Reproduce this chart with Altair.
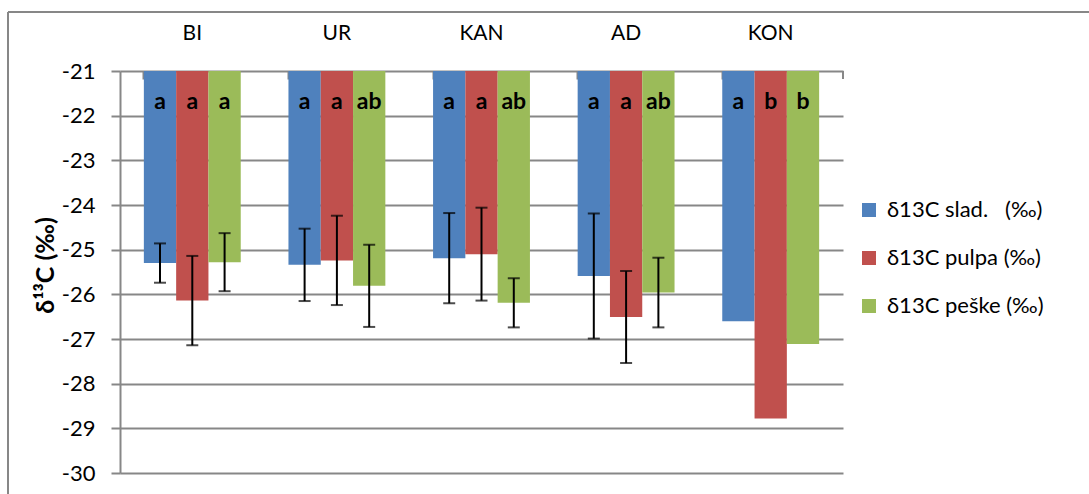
import altair as alt
import pandas as pd

# Sites (categories on the top axis)
groups = ["BI", "UR", "KAN", "AD", "KON"]

# Series names (legend order)
series = ["δ13C slad.\u00a0\u00a0\u00a0(‰)", "δ13C pulpa (‰)", "δ13C peške (‰)"]
colors = ["#4F81BD", "#C0504D", "#9BBB59"]

# Mean δ13C values (‰) per site
slad = [-25.30, -25.34, -25.19, -25.59, -26.60]
pulpa = [-26.14, -25.24, -25.10, -26.51, -28.78]
peske = [-25.28, -25.81, -26.19, -25.96, -27.11]

# Standard deviations (no error bar for KON)
sd_slad = [0.44, 0.81, 1.01, 1.40, None]
sd_pulpa = [1.00, 1.00, 1.04, 1.03, None]
sd_peske = [0.65, 0.92, 0.55, 0.78, None]

# Significance letters
let_slad = ["a", "a", "a", "a", "a"]
let_pulpa = ["a", "a", "a", "a", "b"]
let_peske = ["a", "ab", "ab", "ab", "b"]

rows = []
for name, vals, sds, lets in zip(series, [slad, pulpa, peske],
                                 [sd_slad, sd_pulpa, sd_peske],
                                 [let_slad, let_pulpa, let_peske]):
    for g, v, s, l in zip(groups, vals, sds, lets):
        rows.append({
            "group": g, "series": name, "value": v, "base": -21.0,
            "lo": v - s if s is not None else None,
            "hi": v + s if s is not None else None,
            "letter": l, "label_y": -21.7,
        })
df = pd.DataFrame(rows)

FONT = "Lato"
GRID = "#878787"

x_enc = alt.X(
    "group:N", sort=groups, title=None,
    scale=alt.Scale(paddingInner=0.33, paddingOuter=0.165),
    axis=alt.Axis(orient="top", labelAngle=0, labelFont=FONT, labelFontSize=21,
                  labelColor="#000000", labelPadding=28, domain=False,
                  ticks=True, tickSize=8, tickColor=GRID, tickWidth=2,
                  bandPosition=0, offset=-8, grid=False),
)
xoff = alt.XOffset("series:N", sort=series, scale=alt.Scale(paddingInner=0, paddingOuter=0))

y_scale = alt.Scale(domain=[-30, -21], nice=False, zero=False)

bars = alt.Chart(df).mark_bar().encode(
    x=x_enc,
    xOffset=xoff,
    y=alt.Y("value:Q", scale=y_scale,
            axis=alt.Axis(values=list(range(-30, -20)), format="d",
                          labelExpr="replace(datum.label, '\u2212', '-')",
                          title="δ¹³C (‰)", titleFont=FONT, titleFontSize=25,
                          titleFontWeight="bold", titleColor="#000000",
                          titleAngle=-90, titleX=-75, titleY=194,
                          titleAlign="center", titleBaseline="middle",
                          labelFont=FONT, labelFontSize=22, labelColor="#000000",
                          labelPadding=16, tickSize=9, tickColor=GRID, tickWidth=2,
                          domainColor=GRID, domainWidth=2,
                          grid=True, gridColor=GRID, gridWidth=2)),
    y2="base:Q",
    color=alt.Color("series:N", sort=series,
                    scale=alt.Scale(domain=series, range=colors),
                    legend=alt.Legend(title=None, orient="none", legendX=738, legendY=128,
                                      symbolType="square", symbolSize=196,
                                      symbolStrokeWidth=0, labelFont=FONT,
                                      labelFontSize=22, labelColor="#000000",
                                      labelOffset=7, rowPadding=26, padding=0,
                                      labelLimit=300)),
)

err = alt.Chart(df).transform_filter("datum.lo != null")

stems = err.mark_rule(color="#000000", strokeWidth=2).encode(
    x=alt.X("group:N", sort=groups), xOffset=xoff,
    y=alt.Y("lo:Q", scale=y_scale), y2="hi:Q",
)
caps_lo = err.mark_tick(color="#000000", size=12, thickness=2).encode(
    x=alt.X("group:N", sort=groups), xOffset=xoff,
    y=alt.Y("lo:Q", scale=y_scale),
)
caps_hi = err.mark_tick(color="#000000", size=12, thickness=2).encode(
    x=alt.X("group:N", sort=groups), xOffset=xoff,
    y=alt.Y("hi:Q", scale=y_scale),
)

letters = alt.Chart(df).mark_text(font=FONT, fontSize=23, fontWeight="bold",
                                  color="#000000", baseline="middle").encode(
    x=alt.X("group:N", sort=groups), xOffset=xoff,
    y=alt.Y("label_y:Q", scale=y_scale),
    text="letter:N",
)

# Closing tick at the right end of the category axis
end_tick = alt.Chart(df).mark_rule(color=GRID, strokeWidth=2).encode(
    x=alt.value(723), y=alt.value(0), y2=alt.value(8)
)

# Outer chart frame (top and left edges)
frame_top = alt.Chart(df).mark_rule(color=GRID, strokeWidth=2).encode(
    x=alt.value(-112), x2=alt.value(969), y=alt.value(-59)
)
frame_left = alt.Chart(df).mark_rule(color=GRID, strokeWidth=2).encode(
    x=alt.value(-112), y=alt.value(-59), y2=alt.value(423)
)

chart = alt.layer(bars, stems, caps_lo, caps_hi, letters, end_tick, frame_top, frame_left).properties(
    width=723, height=402,
    autosize=alt.AutoSizeParams(type="none"),
    padding={"left": 120, "top": 71, "right": 246, "bottom": 21},
    background="#FFFFFF",
).configure_view(stroke=None)

chart.save("out.html", embed_options={"renderer": "svg", "actions": False})
